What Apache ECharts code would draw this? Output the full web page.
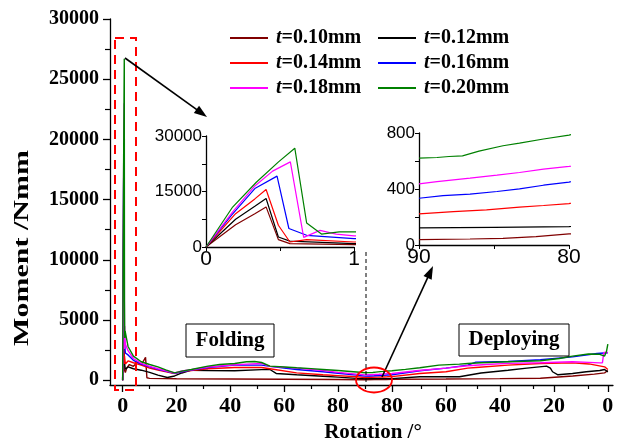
<!DOCTYPE html>
<html><head><meta charset="utf-8">
<script src="https://cdn.jsdelivr.net/npm/echarts@6/dist/echarts.min.js"></script>
<style>
html,body{margin:0;padding:0;background:#fff}
#wrap{position:relative;width:625px;height:446px;background:#fff}
.layer{position:absolute;left:0;top:0;width:625px;height:446px}
</style>
</head><body>
<div id="wrap">
<div class="layer" id="lFold"></div>
<div class="layer" id="lDep"></div>
<div class="layer" id="lMinor"></div>
<div class="layer" id="lInset"></div>
<div class="layer" id="lGfx"></div>
</div>
<script>
// ---- data ----
const names = ['t=0.10mm','t=0.12mm','t=0.14mm','t=0.16mm','t=0.18mm','t=0.20mm'];
const colors = ['#800000','#000000','#ff0000','#0000ff','#ff00ff','#008000'];
const xTickLabels = [0,20,40,60,80];
const yTickLabels = [0,5000,10000,15000,20000,25000,30000];

// folding: [rotation deg, moment Nmm]
const fold010 = [[0,0],[0.2,6000],[0.33,9000],[0.406,10840],[0.489,2000],[0.567,900],[1,630],[1.5,1000],[2.5,1300],[4,1150],[5.5,1500],[7,1300],[8.5,1900],[9,200],[10,150],[20,120],[40,100],[60,80],[80,60],[90,38]];
const fold012 = [[0,0],[0.2,7500],[0.33,11000],[0.406,13100],[0.489,2700],[0.567,1600],[1,900],[2,1100],[4,950],[6.9,830],[10,650],[13.1,420],[16.6,220],[19.3,350],[22,600],[25.5,830],[31.7,800],[41.6,780],[51.6,880],[54.7,890],[57,560],[64.6,450],[74.4,330],[80,250],[86.9,150],[90,122]];
const fold014 = [[0,0],[0.2,9000],[0.33,13000],[0.406,15540],[0.489,5870],[0.567,1350],[0.68,2000],[1,1350],[2,1600],[4,1450],[6.9,1250],[10,1000],[13.1,850],[19.3,560],[22,700],[25.5,800],[31.7,950],[41.6,1050],[51.6,1050],[54.7,950],[64.6,610],[74.4,450],[80,380],[86.9,280],[90,222]];
const fold016 = [[0,0],[0.17,8500],[0.33,15800],[0.48,19150],[0.56,5000],[0.68,3160],[1,2260],[2,2100],[4,1650],[6.9,1330],[10,1100],[13.1,900],[19.3,560],[22,700],[25.5,850],[31.7,1050],[41.6,1250],[51.6,1250],[54.7,1150],[64.6,890],[74.4,700],[80,580],[86.9,420],[90,334]];
const fold018 = [[0,0],[0.18,9500],[0.33,16500],[0.45,20500],[0.57,23000],[0.66,2600],[0.77,4500],[0.88,3500],[1,3000],[2,2450],[4,1800],[6.9,1390],[10,1150],[13.1,950],[19.3,600],[22,760],[25.5,870],[31.7,1100],[41.6,1280],[46,1330],[51.6,1390],[54.7,1150],[64.6,1000],[74.4,800],[80,650],[86.9,500],[90,437]];
const fold020 = [[0,0],[0.18,10800],[0.34,17500],[0.49,23000],[0.6,26700],[0.68,6500],[0.78,3500],[0.9,4100],[1,4100],[2,2800],[4,2000],[6.9,1530],[10,1300],[13.1,1110],[16,850],[19.3,610],[22,750],[25.5,890],[31.7,1170],[36,1300],[41.6,1390],[46,1530],[49,1550],[51.6,1470],[54.7,1170],[60,1100],[64.6,1030],[70,960],[74.4,890],[80,800],[86.9,680],[90,620]];

// deploying: [rotation deg (90 -> 0), moment Nmm]
const dep010 = [[90,38],[86.6,43],[84.4,48],[82.2,60],[80,79],[60,100],[40,130],[25,160],[13,350],[5,500],[1.2,610],[0,800]];
const dep012 = [[90,122],[85,126],[80,131],[69.7,280],[55,280],[47,600],[37,830],[30,1000],[22.7,1170],[21.3,1000],[20.5,700],[19.8,850],[18.5,450],[17.9,420],[13.1,560],[8,700],[3,800],[1.2,890],[0,690]];
const dep014 = [[90,222],[87.7,239],[85.5,251],[83.3,270],[81.7,282],[80,296],[69.7,560],[60,700],[51.9,1000],[48.9,1050],[37,1250],[25,1390],[13.1,1440],[7,1350],[1.2,1110],[0,890]];
const dep016 = [[90,334],[88.4,353],[86.6,363],[84.8,382],[83.3,401],[81.7,427],[80,449],[69.7,780],[60,1000],[51.9,1250],[48.9,1500],[37,1550],[25,1700],[13.1,1940],[4,2220],[0,2280]];
const dep018 = [[90,437],[88.8,453],[86.6,477],[84.8,499],[83.3,518],[81.7,542],[80,561],[70,800],[60,1000],[52,1200],[45,1300],[37,1400],[25,1450],[13.1,1530],[7,1480],[3,1440],[2,1450],[1.5,2300],[0,2300]];
const dep020 = [[90,620],[88.8,625],[88,632],[87.1,637],[86,670],[84.4,709],[83.3,728],[81.7,757],[80,785],[75,900],[69.7,1030],[62.6,1250],[55,1330],[51.9,1390],[47,1450],[37,1530],[25,1610],[18,1800],[13.1,2000],[7.2,2170],[3,2150],[1.2,2000],[0.5,2400],[0,3000]];

const folds = [fold010,fold012,fold014,fold016,fold018,fold020];
const deps = [dep010,dep012,dep014,dep016,dep018,dep020];
const copy = a => a.map(p => p.slice());

// ---- shared styles ----
const SERIF = '"Liberation Serif","Times New Roman",serif';
const SANS = '"Liberation Sans",Arial,sans-serif';
const blackLine = () => ({show:true, onZero:false, lineStyle:{color:'#000', width:1.3}});
const mainLabel = (fs) => ({color:'#000', fontFamily:SERIF, fontWeight:'bold', fontSize:fs});
const mk = id => echarts.init(document.getElementById(id));
const MAIN_TOP = 19, MAIN_H = 366;

// ---- layer 1: folding part of main plot ----
mk('lFold').setOption({
  animation:false,
  grid:[{left:110, top:MAIN_TOP, width:255, height:MAIN_H}],
  xAxis:[{gridIndex:0, type:'value', position:'bottom', min:-4.7, max:90, axisLine:blackLine(), splitLine:{show:false},
    axisTick:{show:true, customValues:xTickLabels, length:7, lineStyle:{color:'#000', width:1.3}},
    axisLabel:{customValues:xTickLabels, margin:10, formatter:v=>String(v), ...mainLabel(22)}}],
  yAxis:[{gridIndex:0, type:'value', position:'left', min:-400, max:30000, axisLine:blackLine(), splitLine:{show:false},
    axisTick:{show:true, customValues:yTickLabels, length:7, lineStyle:{color:'#000', width:1.3}},
    axisLabel:{customValues:yTickLabels, margin:11, formatter:v=>String(v), ...mainLabel(20)}}],
  series: folds.map((d,i)=>({type:'line', data:copy(d), symbol:'none', lineStyle:{color:colors[i], width:1.4}}))
});

// ---- layer 2: deploying part of main plot ----
mk('lDep').setOption({
  animation:false,
  grid:[{left:365, top:MAIN_TOP, width:257, height:MAIN_H}],
  xAxis:[{gridIndex:0, type:'value', position:'bottom', inverse:true, min:-1.9, max:90, axisLine:blackLine(), splitLine:{show:false},
    axisTick:{show:true, customValues:xTickLabels, length:7, lineStyle:{color:'#000', width:1.3}},
    axisLabel:{customValues:xTickLabels, margin:10, formatter:v=>String(v), ...mainLabel(22)}}],
  yAxis:[{gridIndex:0, type:'value', min:-400, max:30000, show:false}],
  series: deps.map((d,i)=>({type:'line', data:copy(d), symbol:'none', lineStyle:{color:colors[i], width:1.4}}))
});

// ---- layer 3: minor ticks of main plot ----
mk('lMinor').setOption({
  animation:false,
  grid:[{left:110, top:MAIN_TOP, width:255, height:MAIN_H},{left:365, top:MAIN_TOP, width:257, height:MAIN_H}],
  xAxis:[
    {gridIndex:0, type:'value', position:'bottom', min:-4.7, max:90, axisLine:{show:false, onZero:false}, splitLine:{show:false},
     axisTick:{show:true, customValues:[10,30,50,70], length:4, lineStyle:{color:'#000', width:1.2}}, axisLabel:{show:false}},
    {gridIndex:1, type:'value', position:'bottom', inverse:true, min:-1.9, max:90, axisLine:{show:false, onZero:false}, splitLine:{show:false},
     axisTick:{show:true, customValues:[10,30,50,70,90], length:4, lineStyle:{color:'#000', width:1.2}}, axisLabel:{show:false}}
  ],
  yAxis:[
    {gridIndex:0, type:'value', position:'left', min:-400, max:30000, axisLine:{show:false, onZero:false}, splitLine:{show:false},
     axisTick:{show:true, customValues:[2500,7500,12500,17500,22500,27500], length:5, lineStyle:{color:'#000', width:1.2}}, axisLabel:{show:false}},
    {gridIndex:1, type:'value', min:-400, max:30000, show:false}
  ]
});

// ---- layer 4: insets + legend ----
const legendRows = [38,63,88];
mk('lInset').setOption({
  animation:false,
  legend: names.map((n,i)=>({
    data:[n], left:(i%2===0)?230:378, top:legendRows[Math.floor(i/2)]-10, padding:0,
    itemWidth:38, itemHeight:2, icon:'rect', selectedMode:false,
    formatter: name => '{i|t}{b|' + name.slice(1) + '}',
    textStyle:{rich:{
      i:{fontFamily:SERIF, fontStyle:'italic', fontWeight:'bold', fontSize:20, color:'#000', lineHeight:20, padding:[0,0,0,3]},
      b:{fontFamily:SERIF, fontWeight:'bold', fontSize:20, color:'#000', lineHeight:20}
    }}
  })),
  grid:[{left:206, top:136, width:148, height:111},{left:419, top:133, width:150, height:112}],
  xAxis:[
    {gridIndex:0, type:'value', position:'bottom', min:0, max:1, interval:0.5, axisLine:blackLine(), splitLine:{show:false},
     axisTick:{show:true, length:4, lineStyle:{color:'#000'}},
     axisLabel:{margin:2, color:'#000', fontFamily:SANS, fontSize:21, formatter:v=>(v===0||v===1)?String(v):''}},
    {gridIndex:1, type:'value', position:'bottom', min:80, max:90, interval:5, inverse:true, axisLine:blackLine(), splitLine:{show:false},
     axisTick:{show:true, length:4, lineStyle:{color:'#000'}},
     axisLabel:{margin:2, color:'#000', fontFamily:SANS, fontSize:21, formatter:v=>(v===80||v===90)?String(v):''}}
  ],
  yAxis:[
    {gridIndex:0, type:'value', position:'left', min:0, max:30000, interval:7500, axisLine:blackLine(), splitLine:{show:false},
     axisTick:{show:true, length:4, lineStyle:{color:'#000'}},
     axisLabel:{margin:4, color:'#000', fontFamily:SANS, fontSize:17, formatter:v=>(v%15000===0)?String(v):''}},
    {gridIndex:1, type:'value', position:'left', min:0, max:800, interval:200, axisLine:blackLine(), splitLine:{show:false},
     axisTick:{show:true, length:4, lineStyle:{color:'#000'}},
     axisLabel:{margin:4, color:'#000', fontFamily:SANS, fontSize:17, formatter:v=>(v%400===0)?String(v):''}}
  ],
  series: [].concat(
    folds.map((d,i)=>({name:names[i], type:'line', xAxisIndex:0, yAxisIndex:0, data:copy(d), symbol:'none', color:colors[i], lineStyle:{color:colors[i], width:1.2}})),
    deps.map((d,i)=>({name:names[i], type:'line', xAxisIndex:1, yAxisIndex:1, data:copy(d), symbol:'none', color:colors[i], lineStyle:{color:colors[i], width:1.2}}))
  )
});

// ---- layer 5: annotations ----
function arrow(x1,y1,x2,y2){
  const dx=x2-x1, dy=y2-y1, L=Math.hypot(dx,dy), ux=dx/L, uy=dy/L, px=-uy, py=ux;
  const bx=x2-13*ux, by=y2-13*uy;
  return [
    {type:'line', shape:{x1:x1,y1:y1,x2:bx+3*ux,y2:by+3*uy}, style:{stroke:'#000', lineWidth:1.6}},
    {type:'polygon', shape:{points:[[x2,y2],[bx+4.5*px,by+4.5*py],[bx-4.5*px,by-4.5*py]]}, style:{fill:'#000'}}
  ];
}
mk('lGfx').setOption({
  animation:false,
  graphic:[
    {type:'rect', shape:{x:115,y:38,width:21,height:352}, style:{fill:'none', stroke:'#ff0000', lineWidth:2, lineDash:[9,6]}},
    ...arrow(125,58,207,117),
    ...arrow(382,377,433,266),
    {type:'ellipse', shape:{cx:374,cy:380,rx:18,ry:12.5}, style:{fill:'none', stroke:'#ff0000', lineWidth:1.8}},
    {type:'line', shape:{x1:366,y1:252,x2:366,y2:385}, style:{stroke:'#000', lineWidth:1, lineDash:[4,3]}},
    {type:'rect', shape:{x:186,y:324,width:88,height:33}, style:{fill:'#fff', stroke:'#000', lineWidth:1}},
    {type:'text', x:230, y:341, style:{text:'Folding', font:'bold 21px '+SERIF, textAlign:'center', textVerticalAlign:'middle', fill:'#000'}},
    {type:'rect', shape:{x:459,y:324,width:110,height:32}, style:{fill:'#fff', stroke:'#000', lineWidth:1}},
    {type:'text', x:514, y:340, style:{text:'Deploying', font:'bold 21px '+SERIF, textAlign:'center', textVerticalAlign:'middle', fill:'#000'}},
    {type:'text', x:23, y:248, rotation:Math.PI/2, scaleX:1.5, style:{text:'Moment /Nmm', font:'bold 20px '+SERIF, textAlign:'center', textVerticalAlign:'middle', fill:'#000'}},
    {type:'text', x:373, y:433, style:{text:'Rotation /°', font:'bold 21px '+SERIF, textAlign:'center', textVerticalAlign:'middle', fill:'#000'}}
  ]
});
</script>
</body></html>
